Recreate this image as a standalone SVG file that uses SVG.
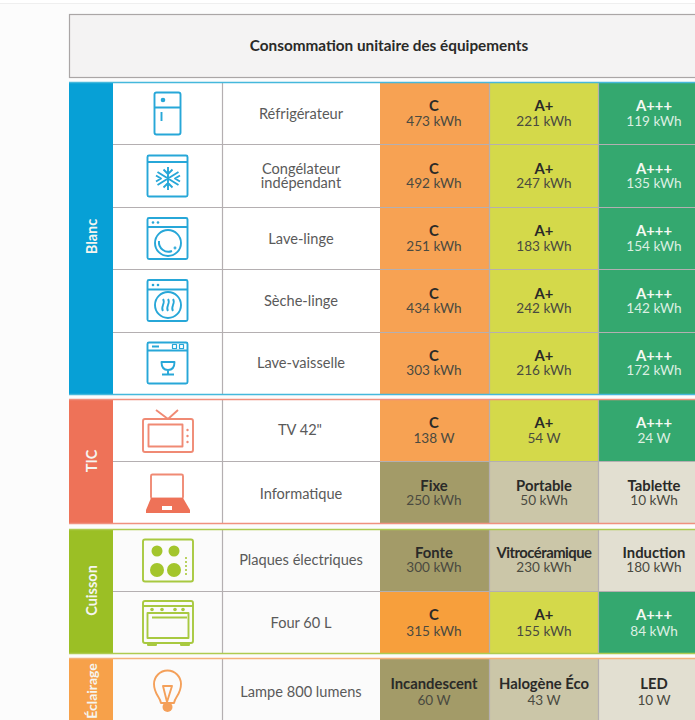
<svg xmlns="http://www.w3.org/2000/svg" width="695" height="720" viewBox="0 0 695 720">
<style>
text{font-family:Lato,"Noto Sans","Liberation Sans",sans-serif;text-anchor:middle}
.n{font-size:14.6px;fill:#5a5a5a}
.t{font-size:14.8px;font-weight:700;fill:#2a2a28}
.v{font-size:13.6px;fill:#4a4a40}
.tw{font-size:14.8px;font-weight:700;fill:#f4f8f2}
.vw{font-size:13.6px;fill:#dcefe2}
.s{font-size:14.5px;font-weight:700;fill:#f5f5f0}
.c{fill:#f7a253}.a{fill:#d4d94a}.g{fill:#34a86f}
.d{fill:#a39b68}.m{fill:#cbc6a8}.l{fill:#e2dfd1}
.r{stroke:#b4afb1;stroke-width:1.200;fill:none}
.ib{fill:none;stroke:#27a7d8;stroke-width:1.900;stroke-linejoin:round}
.it{fill:none;stroke:#f08a74;stroke-width:1.900;stroke-linejoin:round}
.ic{fill:none;stroke:#a8c940;stroke-width:1.900;stroke-linejoin:round}
.io{fill:none;stroke:#f4a05a;stroke-width:1.900;stroke-linejoin:round}
</style>
<rect width="695" height="720" fill="#fcfcfc"/>
<rect y="0" width="695" height="3" fill="#fff"/>
<rect y="3" width="695" height="1" fill="#efefef"/>
<g id="header">
<rect x="69.500" y="14.500" width="640" height="63" fill="#f4f3f3" stroke="#aaa6a6" stroke-width="1.200"/>
<text x="389" y="51" class="t" style="font-size:15.300px">Consommation unitaire des équipements</text>
</g>
<g id="white-bg" fill="#fff">
<rect x="113" y="82" width="267" height="312"/>
<rect x="113" y="400" width="267" height="124"/>
<rect x="113" y="529" width="267" height="124" fill="#fbfbfb"/>
<rect x="113" y="659" width="267" height="61" fill="#fbfbfb"/>
</g>
<g id="cells">
<rect x="380" y="82" width="109" height="312" class="c"/>
<rect x="489" y="82" width="110" height="312" class="a"/>
<rect x="599" y="82" width="96" height="312" class="g"/>
<rect x="380" y="400" width="109" height="62" class="c"/>
<rect x="489" y="400" width="110" height="62" class="a"/>
<rect x="599" y="400" width="96" height="62" class="g"/>
<rect x="380" y="462" width="109" height="62" class="d"/>
<rect x="489" y="462" width="110" height="62" class="m"/>
<rect x="599" y="462" width="96" height="62" class="l"/>
<rect x="380" y="529" width="109" height="62" class="d"/>
<rect x="489" y="529" width="110" height="62" class="m"/>
<rect x="599" y="529" width="96" height="62" class="l"/>
<rect x="380" y="591" width="109" height="62" fill="#f79f3c"/>
<rect x="489" y="591" width="110" height="62" class="a"/>
<rect x="599" y="591" width="96" height="62" class="g"/>
<rect x="380" y="659" width="109" height="61" class="d"/>
<rect x="489" y="659" width="110" height="61" class="m"/>
<rect x="599" y="659" width="96" height="61" class="l"/>
</g>
<g id="grid" class="r">
<path d="M113 144.500H695M113 207.500H695M113 269.500H695M113 332.500H695M113 461.500H695M113 591.500H695"/>
<path d="M222.500 82V394M222.500 400V524M222.500 529V653M222.500 659V720M489.500 82V394M489.500 400V524M489.500 529V653M489.500 659V720M598.500 82V394M598.500 400V524M598.500 529V653M598.500 659V720"/>
</g>
<g id="section-blanc">
<rect x="69" y="82" width="44" height="312" fill="#07a0d6"/>
<path d="M69 82.500H695M69 394.500H695" stroke="#45b8dc" fill="none" stroke-width="1.300"/>
<text class="s" transform="translate(96.500 236.500) rotate(-90)">Blanc</text>
</g>
<g id="section-tic">
<rect x="69" y="400" width="44" height="124" fill="#ee7258"/>
<path d="M69 399.500H695M69 523.500H695" stroke="#f0917f" fill="none" stroke-width="1.300"/>
<text class="s" transform="translate(96.500 461) rotate(-90)">TIC</text>
</g>
<g id="section-cuisson">
<rect x="69" y="529" width="44" height="124" fill="#9bbf25"/>
<path d="M69 529.500H695M69 653.500H695" stroke="#aecb50" fill="none" stroke-width="1.300"/>
<text class="s" transform="translate(96.500 590.500) rotate(-90)">Cuisson</text>
</g>
<g id="section-eclairage">
<rect x="69" y="659" width="44" height="61" fill="#f7a14a"/>
<path d="M69 658.500H695" stroke="#f5b27a" fill="none" stroke-width="1.300"/>
<text class="s" transform="translate(96.500 691) rotate(-90)" style="font-size:14px">Éclairage</text>
</g>
<g id="row-refrigerateur">
<g class="ib"><rect x="154.500" y="92.500" width="26" height="42" rx="2"/><path d="M154.500 107.500H180.500M161.500 112V121"/><circle cx="163" cy="100" r="2.300" fill="#27a7d8" stroke="none"/></g>
<text x="301" y="119" class="n">Réfrigérateur</text>
<text x="434" y="111" class="t">C</text><text x="434" y="126" class="v">473 kWh</text>
<text x="544" y="111" class="t">A+</text><text x="544" y="126" class="v">221 kWh</text>
<text x="654" y="111" class="tw">A+++</text><text x="654" y="126" class="vw">119 kWh</text>
</g>
<g id="row-congelateur">
<g class="ib"><rect x="147.500" y="155.500" width="40" height="41" rx="1.500"/><path d="M147.500 162H187.500M168 167V190M157.500 172L178.500 185M178.500 172L157.500 185M163.500 169.500L168 174L172.500 169.500M163.500 187.500L168 183L172.500 187.500M156 175.500L161 178.500L156 181.500M180 175.500L175 178.500L180 181.500"/></g>
<text x="301" y="174" class="n">Congélateur</text><text x="301" y="188" class="n">indépendant</text>
<text x="434" y="174" class="t">C</text><text x="434" y="188" class="v">492 kWh</text>
<text x="544" y="174" class="t">A+</text><text x="544" y="188" class="v">247 kWh</text>
<text x="654" y="174" class="tw">A+++</text><text x="654" y="188" class="vw">135 kWh</text>
</g>
<g id="row-lave-linge">
<g class="ib"><rect x="147.500" y="218" width="40" height="41" rx="1.500"/><path d="M147.500 227H187.500"/><circle cx="168" cy="243" r="13"/><path d="M159 241A9.500 9.500 0 0 0 172 251"/><circle cx="175" cy="248" r="0.500"/></g>
<circle cx="153" cy="222.500" r="1.300" fill="#27a7d8"/><circle cx="158" cy="222.500" r="1.300" fill="#27a7d8"/>
<text x="301" y="244" class="n">Lave-linge</text>
<text x="434" y="236" class="t">C</text><text x="434" y="251" class="v">251 kWh</text>
<text x="544" y="236" class="t">A+</text><text x="544" y="251" class="v">183 kWh</text>
<text x="654" y="236" class="tw">A+++</text><text x="654" y="251" class="vw">154 kWh</text>
</g>
<g id="row-seche-linge">
<g class="ib"><rect x="147.500" y="280" width="40" height="41" rx="1.500"/><path d="M147.500 289.500H187.500"/><circle cx="168" cy="305" r="13"/><path d="M163 311C160 307 166 303 163 299M168 311C165 307 171 303 168 299M173 311C170 307 176 303 173 299"/></g>
<circle cx="153" cy="285" r="1.300" fill="#27a7d8"/><circle cx="158" cy="285" r="1.300" fill="#27a7d8"/>
<text x="301" y="306" class="n">Sèche-linge</text>
<text x="434" y="299" class="t">C</text><text x="434" y="313" class="v">434 kWh</text>
<text x="544" y="299" class="t">A+</text><text x="544" y="313" class="v">242 kWh</text>
<text x="654" y="299" class="tw">A+++</text><text x="654" y="313" class="vw">142 kWh</text>
</g>
<g id="row-lave-vaisselle">
<g class="ib"><rect x="147.500" y="342.500" width="40" height="41" rx="1.500"/><path d="M147.500 350.500H187.500M152 346.500H159M161.500 362H174.500C174.500 368 172 370 168 370C164 370 161.500 368 161.500 362ZM168 370V374M162 374.500H174"/><rect x="172.500" y="344.500" width="4" height="4" stroke-width="1.200"/><rect x="179.500" y="344.500" width="4" height="4" stroke-width="1.200"/></g>
<text x="301" y="368" class="n">Lave-vaisselle</text>
<text x="434" y="361" class="t">C</text><text x="434" y="375" class="v">303 kWh</text>
<text x="544" y="361" class="t">A+</text><text x="544" y="375" class="v">216 kWh</text>
<text x="654" y="361" class="tw">A+++</text><text x="654" y="375" class="vw">172 kWh</text>
</g>
<g id="row-tv">
<g class="it"><rect x="143" y="419" width="50" height="33" rx="2"/><rect x="148.500" y="424.500" width="34" height="22"/><path d="M156 410L168 419L178 410"/></g>
<g fill="#f08a74"><circle cx="187.500" cy="430" r="1.200"/><circle cx="187.500" cy="436" r="1.200"/><circle cx="187.500" cy="442" r="1.200"/></g>
<text x="300" y="435" class="n">TV 42"</text>
<text x="434" y="428" class="t">C</text><text x="434" y="443" class="v">138 W</text>
<text x="544" y="428" class="t">A+</text><text x="544" y="443" class="v">54 W</text>
<text x="654" y="428" class="tw">A+++</text><text x="654" y="443" class="vw">24 W</text>
</g>
<g id="row-informatique">
<rect x="151" y="474.500" width="32" height="24" rx="1.500" class="it"/>
<path d="M151 498H183L190 510V513H146V510Z" fill="#ee7258"/><rect x="162" y="506" width="10" height="4" fill="#fff"/>
<text x="301" y="499" class="n">Informatique</text>
<text x="434" y="491" class="t">Fixe</text><text x="434" y="505" class="v">250 kWh</text>
<text x="544" y="491" class="t">Portable</text><text x="544" y="505" class="v">50 kWh</text>
<text x="654" y="491" class="t">Tablette</text><text x="654" y="505" class="v">10 kWh</text>
</g>
<g id="row-plaques">
<rect x="143" y="539.500" width="50" height="42" rx="2" class="ic"/>
<g fill="#a3c52c"><circle cx="157" cy="551" r="5.500"/><circle cx="174" cy="551" r="5.500"/><circle cx="157" cy="570" r="7"/><circle cx="174" cy="570" r="7"/><circle cx="186" cy="558" r="1"/><circle cx="186" cy="562" r="1"/><circle cx="186" cy="566" r="1"/><circle cx="186" cy="570" r="1"/><circle cx="186" cy="574" r="1"/></g>
<text x="301" y="565" class="n">Plaques électriques</text>
<text x="434" y="558" class="t">Fonte</text><text x="434" y="572" class="v">300 kWh</text>
<text x="544" y="558" class="t" style="letter-spacing:-.5px">Vitrocéramique</text><text x="544" y="572" class="v">230 kWh</text>
<text x="654" y="558" class="t">Induction</text><text x="654" y="572" class="v">180 kWh</text>
</g>
<g id="row-four">
<g class="ic"><rect x="143" y="601" width="50" height="42" rx="2"/><path d="M143 606H193M152 617.500H187"/><rect x="147.500" y="613" width="41" height="25"/><path d="M148 643V645H156V643M181 643V645H189V643"/></g>
<g fill="#a8c940"><circle cx="152" cy="609.500" r="1.800"/><circle cx="162" cy="609.500" r="1.800"/><circle cx="175" cy="609.500" r="1.800"/><circle cx="183" cy="609.500" r="1.800"/></g>
<text x="301" y="628" class="n">Four 60 L</text>
<text x="434" y="620" class="t">C</text><text x="434" y="636" class="v">315 kWh</text>
<text x="544" y="620" class="t">A+</text><text x="544" y="636" class="v">155 kWh</text>
<text x="654" y="620" class="tw">A+++</text><text x="654" y="636" class="vw">84 kWh</text>
</g>
<g id="row-lampe">
<path class="io" d="M161 703C160 697 154 694 154 684A13.500 13.500 0 0 1 181 684C181 694 175 697 174 703ZM163 686L167 702L172 686Z"/>
<circle cx="167.500" cy="707" r="5" fill="#f4a05a"/>
<text x="301" y="697" class="n">Lampe 800 lumens</text>
<text x="434" y="689" class="t">Incandescent</text><text x="434" y="705" class="v">60 W</text>
<text x="544" y="689" class="t">Halogène Éco</text><text x="544" y="705" class="v">43 W</text>
<text x="654" y="689" class="t">LED</text><text x="654" y="705" class="v">10 W</text>
</g>
</svg>
